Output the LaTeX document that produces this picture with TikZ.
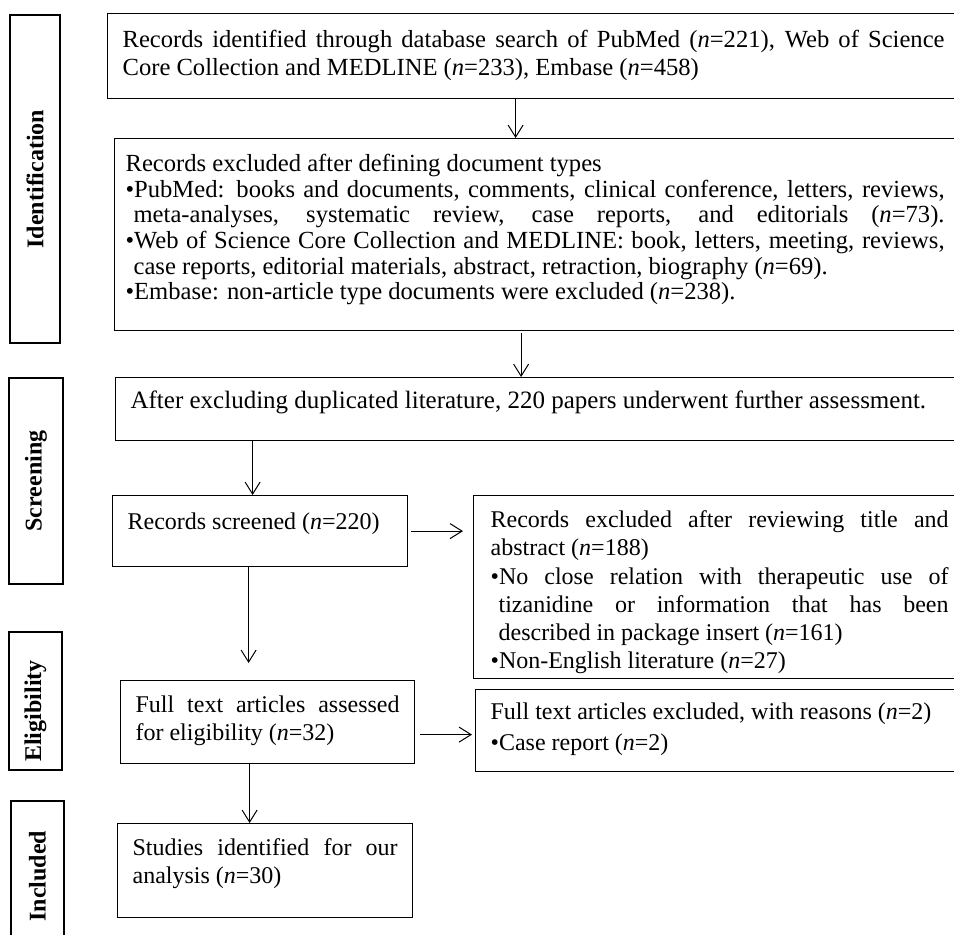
\documentclass[tikz,border=0pt]{standalone}
\usepackage{fontspec}
\setmainfont{Liberation Serif}
\usetikzlibrary{arrows.meta}

\hyphenpenalty=10000
\exhyphenpenalty=10000
\tolerance=9999

% bullet item with hanging indent
\newcommand{\itm}{\par\parfillskip=0pt plus 1fil\hangindent=8pt\hangafter=1\textbullet}

\begin{document}
\begin{tikzpicture}[
    x=1pt, y=-1pt,
    box/.style={draw, line width=1.2pt, inner xsep=15pt, inner ysep=0pt, anchor=north west,
                align=justify, font=\fontsize{24pt}{27.5pt}\selectfont},
    stage/.style={draw, line width=1.4pt, rotate=90, inner sep=0pt,
                  font=\fontsize{24pt}{28pt}\selectfont\bfseries},
    arr/.style={-{Straight Barb[length=12pt,width=15pt,line width=1pt]}, line width=1pt},
]
\useasboundingbox (0,0) rectangle (954,935);

% ---- stages ----
\node[stage, minimum width=328pt, minimum height=50pt] (sIdent) at (35,179) {Identification};
\node[stage, minimum width=206pt, minimum height=54pt] (sScreen) at (36,481) {Screening};
\node[stage, minimum width=138pt, minimum height=53pt] (sElig) at (35.5,701) {Eligibility\hspace*{20pt}};
\node[stage, minimum width=150pt, minimum height=53pt] (sIncl) at (37.5,876) {Included};

% ---- identification ----
\node[box, text width=822pt, text height=34pt, text depth=51pt,
      font=\fontsize{24.6pt}{27.5pt}\selectfont] (b1) at (107,13)
  {Records identified through database search of PubMed (\textit{n}=221), Web of Science\linebreak
   Core Collection and MEDLINE (\textit{n}=233), Embase (\textit{n}=458)};

\node[box, inner xsep=11pt, text width=819pt, text height=33pt, text depth=159pt,
      font=\fontsize{24.6pt}{25.6pt}\selectfont] (b2) at (114,138)
  {Records excluded after defining document types
   \itm PubMed: books and documents, comments, clinical conference, letters, reviews,\linebreak
   meta-analyses, systematic review, case reports, and editorials (\textit{n}=73).\parfillskip=0pt
   \itm Web of Science Core Collection and MEDLINE: book, letters, meeting, reviews,\linebreak
   case reports, editorial materials, abstract, retraction, biography (\textit{n}=69).
   \itm Embase: non-article type documents were excluded (\textit{n}=238).};

% ---- screening ----
\node[box, text width=810pt, text height=31pt, text depth=32pt,
      font=\fontsize{25pt}{27.5pt}\selectfont] (b3) at (115,377)
  {After excluding duplicated literature, 220 papers underwent further assessment.};

\node[box, text width=265pt, text height=34pt, text depth=37pt] (b4) at (112,495)
  {Records screened (\textit{n}=220)};

\node[box, inner xsep=17pt, text width=458pt, text height=32pt, text depth=151pt,
      font=\fontsize{24pt}{28.2pt}\selectfont] (b5) at (473,495)
  {Records excluded after reviewing title and\linebreak abstract (\textit{n}=188)
   \itm No close relation with therapeutic use of\linebreak
   tizanidine or information that has been\linebreak
   described in package insert (\textit{n}=161)
   \itm Non-English literature (\textit{n}=27)};

% ---- eligibility ----
\node[box, text width=264pt, text height=32pt, text depth=51pt] (b7) at (120,680)
  {Full text articles assessed\linebreak for eligibility (\textit{n}=32)};

\node[box, text width=460pt, text height=30pt, text depth=52pt,
      font=\fontsize{24pt}{31pt}\selectfont] (b6) at (475,689)
  {Full text articles excluded, with reasons (\textit{n}=2)
   \itm Case report (\textit{n}=2)};

% ---- included ----
\node[box, text width=265pt, text height=32pt, text depth=62pt] (b8) at (117,823)
  {Studies identified for our\linebreak analysis (\textit{n}=30)};

% ---- arrows ----
\draw[arr] ([xshift=-18pt]b1.south) -- ([xshift=-18pt]b1.south |- b2.north);
\draw[arr, shorten <=2pt] ([xshift=-14pt]b2.south) -- ([xshift=-14pt]b2.south |- b3.north);
\draw[arr] ([xshift=-7.5pt]b4.north |- b3.south) -- ([xshift=-7.5pt]b4.north);
\draw[arr, shorten <=3pt, shorten >=10pt] (b4.east) -- (b4.east -| b5.west);
\draw[arr, shorten >=17pt] ([xshift=-11.5pt]b4.south) -- ([xshift=-11.5pt]b4.south |- b7.north);
\draw[arr, shorten <=5pt, shorten >=3pt] ([yshift=-12.5pt]b7.east) -- ([yshift=-12.5pt]b7.east -| b6.west);
\draw[arr] ([xshift=-18pt]b7.south) -- ([xshift=-18pt]b7.south |- b8.north);

\end{tikzpicture}
\end{document}
